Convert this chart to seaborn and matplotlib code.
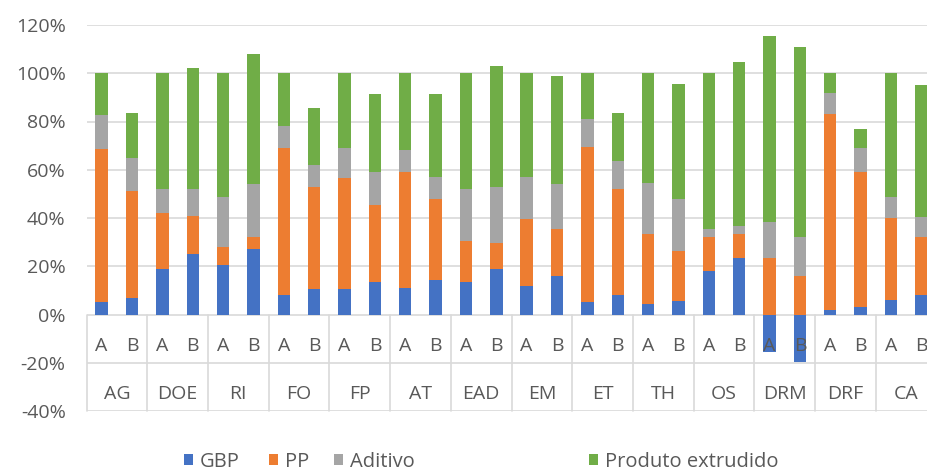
import numpy as np
import pandas as pd
import matplotlib
matplotlib.use("Agg")
import matplotlib.pyplot as plt
from matplotlib.patches import Patch
import seaborn as sns

groups = ["AG", "DOE", "RI", "FO", "FP", "AT", "EAD", "EM", "ET", "TH", "OS", "DRM", "DRF", "CA"]
variants = ["A", "B"]

gbp = [5, 7, 19, 25, 20.5, 27, 8, 10.5, 10.5, 13.5, 11, 14.5, 13.5, 19,
       12, 16, 5, 8, 4.5, 5.5, 18, 23.5, -15.5, -19.5, 2, 3, 6, 8]
pp = [63.5, 44, 23, 16, 7.5, 5, 61, 42.5, 46, 32, 48, 33.5, 17, 10.5,
      27.5, 19.5, 64.5, 44, 29, 21, 14, 10, 23.5, 16, 81, 56, 34, 24]
aditivo = [14, 14, 10, 11, 20.5, 22, 9, 9, 12.5, 13.5, 9, 9, 21.5, 23.5,
           17.5, 18.5, 11.5, 11.5, 21, 21.5, 3.5, 3, 15, 16, 9, 10, 8.5, 8.5]
produto = [17.5, 18.5, 48, 50, 51.5, 54, 22, 23.5, 31, 32.5, 32, 34.5, 48, 50,
           43, 45, 19, 20, 45.5, 47.5, 64.5, 68, 77, 79, 8, 8, 51.5, 54.5]

series_names = ["GBP", "PP", "Aditivo", "Produto extrudido"]
colors = ["#4472C4", "#ED7D31", "#A5A5A5", "#70AD47"]

labels = [f"{g} {v}" for g in groups for v in variants]
df = pd.DataFrame({"label": labels, "GBP": gbp, "PP": pp,
                   "Aditivo": aditivo, "Produto extrudido": produto})
base = df["GBP"].clip(lower=0)
df["top_GBP"] = df["GBP"]
df["top_PP"] = base + df["PP"]
df["top_Aditivo"] = df["top_PP"] + df["Aditivo"]
df["top_Produto extrudido"] = df["top_Aditivo"] + df["Produto extrudido"]

sns.set_theme(style="white")
plt.rcParams["font.family"] = ["Open Sans", "DejaVu Sans"]
txt_color = "#595959"

fig = plt.figure(figsize=(9.27, 4.71), dpi=100)
ax = fig.add_axes([86.5 / 927, 1 - 411 / 471, 850 / 927, (411 - 25) / 471])

for name, col in list(zip(series_names, colors))[::-1]:
    sns.barplot(data=df, x="label", y=f"top_{name}", order=labels, color=col,
                saturation=1, width=0.41, errorbar=None, ax=ax, zorder=3,
                linewidth=0)

ax.set_xlim(-0.5, len(labels) - 0.5)
ax.set_ylim(-40, 120)
yt = np.arange(-40, 121, 20)
ax.set_yticks(yt)
ax.set_yticklabels([f"{v}%" for v in yt], fontsize=14, color=txt_color)
ax.set_xticks([])
ax.set_xlabel("")
ax.set_ylabel("")
for s in ax.spines.values():
    s.set_visible(False)
ax.tick_params(axis="y", length=0, pad=15)

grid_c = "#D9D9D9"
for v in yt:
    ax.axhline(v, color=grid_c, lw=1.2, zorder=1)
for k in range(len(groups) + 1):
    ax.plot([-0.5 + 2 * k] * 2, [0, -40], color=grid_c, lw=1.2, zorder=1,
            clip_on=False)

for i, lab in enumerate(labels):
    ax.text(i, -13, lab.split()[1], ha="center", va="center", fontsize=14,
            color=txt_color, zorder=4)
for k, g in enumerate(groups):
    ax.text(2 * k + 0.5, -33, g, ha="center", va="center", fontsize=14,
            color=txt_color, zorder=4)

leg_x = [184, 269, 334, 589]
for name, col, x in zip(series_names, colors, leg_x):
    fig.legend(handles=[Patch(facecolor=col, edgecolor="none", label=name)],
               loc="center left", bbox_to_anchor=(x / 927, 1 - 462 / 471),
               frameon=False, fontsize=14.5, labelcolor=txt_color,
               handlelength=0.45, handleheight=0.45, handletextpad=0.35,
               borderpad=0, borderaxespad=0)

fig.savefig("out.png", dpi=100)
